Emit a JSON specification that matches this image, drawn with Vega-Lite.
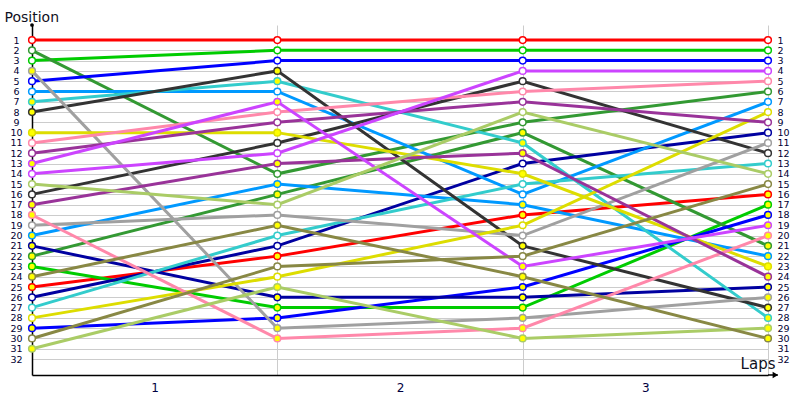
{
  "$schema": "https://vega.github.io/schema/vega-lite/v6.json",
  "width": 736,
  "height": 350,
  "autosize": {"type": "none"},
  "padding": {"left": 32, "top": 25, "right": 32, "bottom": 25},
  "background": "white",
  "config": {"view": {"stroke": null}, "font": "DejaVu Sans"},
  "data": {"values": [
    {"driver":"R1","team":"red","car":"first","lap":0,"pos":1},{"driver":"R1","team":"red","car":"first","lap":1,"pos":1},{"driver":"R1","team":"red","car":"first","lap":2,"pos":1},{"driver":"R1","team":"red","car":"first","lap":3,"pos":1},
    {"driver":"R2","team":"red","car":"second","lap":0,"pos":25},{"driver":"R2","team":"red","car":"second","lap":1,"pos":22},{"driver":"R2","team":"red","car":"second","lap":2,"pos":18},{"driver":"R2","team":"red","car":"second","lap":3,"pos":16},
    {"driver":"L1","team":"lime","car":"first","lap":0,"pos":3},{"driver":"L1","team":"lime","car":"first","lap":1,"pos":2},{"driver":"L1","team":"lime","car":"first","lap":2,"pos":2},{"driver":"L1","team":"lime","car":"first","lap":3,"pos":2},
    {"driver":"L2","team":"lime","car":"second","lap":0,"pos":23},{"driver":"L2","team":"lime","car":"second","lap":1,"pos":27},{"driver":"L2","team":"lime","car":"second","lap":2,"pos":27},{"driver":"L2","team":"lime","car":"second","lap":3,"pos":17},
    {"driver":"F1","team":"forest","car":"first","lap":0,"pos":2},{"driver":"F1","team":"forest","car":"first","lap":1,"pos":14},{"driver":"F1","team":"forest","car":"first","lap":2,"pos":9},{"driver":"F1","team":"forest","car":"first","lap":3,"pos":6},
    {"driver":"F2","team":"forest","car":"second","lap":0,"pos":22},{"driver":"F2","team":"forest","car":"second","lap":1,"pos":16},{"driver":"F2","team":"forest","car":"second","lap":2,"pos":10},{"driver":"F2","team":"forest","car":"second","lap":3,"pos":21},
    {"driver":"B1","team":"blue","car":"first","lap":0,"pos":5},{"driver":"B1","team":"blue","car":"first","lap":1,"pos":3},{"driver":"B1","team":"blue","car":"first","lap":2,"pos":3},{"driver":"B1","team":"blue","car":"first","lap":3,"pos":3},
    {"driver":"B2","team":"blue","car":"second","lap":0,"pos":29},{"driver":"B2","team":"blue","car":"second","lap":1,"pos":28},{"driver":"B2","team":"blue","car":"second","lap":2,"pos":25},{"driver":"B2","team":"blue","car":"second","lap":3,"pos":18},
    {"driver":"N1","team":"navy","car":"first","lap":0,"pos":26},{"driver":"N1","team":"navy","car":"first","lap":1,"pos":21},{"driver":"N1","team":"navy","car":"first","lap":2,"pos":13},{"driver":"N1","team":"navy","car":"first","lap":3,"pos":10},
    {"driver":"N2","team":"navy","car":"second","lap":0,"pos":21},{"driver":"N2","team":"navy","car":"second","lap":1,"pos":26},{"driver":"N2","team":"navy","car":"second","lap":2,"pos":26},{"driver":"N2","team":"navy","car":"second","lap":3,"pos":25},
    {"driver":"D1","team":"dodger","car":"first","lap":0,"pos":6},{"driver":"D1","team":"dodger","car":"first","lap":1,"pos":6},{"driver":"D1","team":"dodger","car":"first","lap":2,"pos":16},{"driver":"D1","team":"dodger","car":"first","lap":3,"pos":7},
    {"driver":"D2","team":"dodger","car":"second","lap":0,"pos":20},{"driver":"D2","team":"dodger","car":"second","lap":1,"pos":15},{"driver":"D2","team":"dodger","car":"second","lap":2,"pos":17},{"driver":"D2","team":"dodger","car":"second","lap":3,"pos":22},
    {"driver":"T1","team":"turquoise","car":"first","lap":0,"pos":27},{"driver":"T1","team":"turquoise","car":"first","lap":1,"pos":20},{"driver":"T1","team":"turquoise","car":"first","lap":2,"pos":15},{"driver":"T1","team":"turquoise","car":"first","lap":3,"pos":13},
    {"driver":"T2","team":"turquoise","car":"second","lap":0,"pos":7},{"driver":"T2","team":"turquoise","car":"second","lap":1,"pos":5},{"driver":"T2","team":"turquoise","car":"second","lap":2,"pos":11},{"driver":"T2","team":"turquoise","car":"second","lap":3,"pos":28},
    {"driver":"K1","team":"black","car":"first","lap":0,"pos":16},{"driver":"K1","team":"black","car":"first","lap":1,"pos":11},{"driver":"K1","team":"black","car":"first","lap":2,"pos":5},{"driver":"K1","team":"black","car":"first","lap":3,"pos":12},
    {"driver":"K2","team":"black","car":"second","lap":0,"pos":8},{"driver":"K2","team":"black","car":"second","lap":1,"pos":4},{"driver":"K2","team":"black","car":"second","lap":2,"pos":21},{"driver":"K2","team":"black","car":"second","lap":3,"pos":27},
    {"driver":"G1","team":"gray","car":"first","lap":0,"pos":19},{"driver":"G1","team":"gray","car":"first","lap":1,"pos":18},{"driver":"G1","team":"gray","car":"first","lap":2,"pos":20},{"driver":"G1","team":"gray","car":"first","lap":3,"pos":11},
    {"driver":"G2","team":"gray","car":"second","lap":0,"pos":4},{"driver":"G2","team":"gray","car":"second","lap":1,"pos":29},{"driver":"G2","team":"gray","car":"second","lap":2,"pos":28},{"driver":"G2","team":"gray","car":"second","lap":3,"pos":26},
    {"driver":"Y1","team":"yellow","car":"first","lap":0,"pos":28},{"driver":"Y1","team":"yellow","car":"first","lap":1,"pos":24},{"driver":"Y1","team":"yellow","car":"first","lap":2,"pos":19},{"driver":"Y1","team":"yellow","car":"first","lap":3,"pos":8},
    {"driver":"Y2","team":"yellow","car":"second","lap":0,"pos":10},{"driver":"Y2","team":"yellow","car":"second","lap":1,"pos":10},{"driver":"Y2","team":"yellow","car":"second","lap":2,"pos":14},{"driver":"Y2","team":"yellow","car":"second","lap":3,"pos":23},
    {"driver":"P1","team":"pink","car":"first","lap":0,"pos":11},{"driver":"P1","team":"pink","car":"first","lap":1,"pos":8},{"driver":"P1","team":"pink","car":"first","lap":2,"pos":6},{"driver":"P1","team":"pink","car":"first","lap":3,"pos":5},
    {"driver":"P2","team":"pink","car":"second","lap":0,"pos":18},{"driver":"P2","team":"pink","car":"second","lap":1,"pos":30},{"driver":"P2","team":"pink","car":"second","lap":2,"pos":29},{"driver":"P2","team":"pink","car":"second","lap":3,"pos":20},
    {"driver":"U1","team":"purple","car":"first","lap":0,"pos":12},{"driver":"U1","team":"purple","car":"first","lap":1,"pos":9},{"driver":"U1","team":"purple","car":"first","lap":2,"pos":7},{"driver":"U1","team":"purple","car":"first","lap":3,"pos":9},
    {"driver":"U2","team":"purple","car":"second","lap":0,"pos":17},{"driver":"U2","team":"purple","car":"second","lap":1,"pos":13},{"driver":"U2","team":"purple","car":"second","lap":2,"pos":12},{"driver":"U2","team":"purple","car":"second","lap":3,"pos":24},
    {"driver":"M1","team":"magenta","car":"first","lap":0,"pos":14},{"driver":"M1","team":"magenta","car":"first","lap":1,"pos":12},{"driver":"M1","team":"magenta","car":"first","lap":2,"pos":4},{"driver":"M1","team":"magenta","car":"first","lap":3,"pos":4},
    {"driver":"M2","team":"magenta","car":"second","lap":0,"pos":13},{"driver":"M2","team":"magenta","car":"second","lap":1,"pos":7},{"driver":"M2","team":"magenta","car":"second","lap":2,"pos":23},{"driver":"M2","team":"magenta","car":"second","lap":3,"pos":19},
    {"driver":"V1","team":"yellowgreen","car":"first","lap":0,"pos":15},{"driver":"V1","team":"yellowgreen","car":"first","lap":1,"pos":17},{"driver":"V1","team":"yellowgreen","car":"first","lap":2,"pos":8},{"driver":"V1","team":"yellowgreen","car":"first","lap":3,"pos":14},
    {"driver":"V2","team":"yellowgreen","car":"second","lap":0,"pos":31},{"driver":"V2","team":"yellowgreen","car":"second","lap":1,"pos":25},{"driver":"V2","team":"yellowgreen","car":"second","lap":2,"pos":30},{"driver":"V2","team":"yellowgreen","car":"second","lap":3,"pos":29},
    {"driver":"O1","team":"olive","car":"first","lap":0,"pos":30},{"driver":"O1","team":"olive","car":"first","lap":1,"pos":23},{"driver":"O1","team":"olive","car":"first","lap":2,"pos":22},{"driver":"O1","team":"olive","car":"first","lap":3,"pos":15},
    {"driver":"O2","team":"olive","car":"second","lap":0,"pos":24},{"driver":"O2","team":"olive","car":"second","lap":1,"pos":19},{"driver":"O2","team":"olive","car":"second","lap":2,"pos":24},{"driver":"O2","team":"olive","car":"second","lap":3,"pos":30}
  ]},
  "resolve": {"axis": {"y": "independent"}},
  "layer": [
    {
      "mark": {"type": "line", "strokeWidth": 3},
      "encoding": {
        "x": {"field": "lap", "type": "quantitative",
          "scale": {"domain": [0, 3], "nice": false, "zero": false},
          "axis": {"values": [0.5, 1, 1.5, 2, 2.5, 3],
            "labelExpr": "datum.value % 1 ? toString(ceil(datum.value)) : ''",
            "ticks": false, "tickSize": 0, "grid": true,
            "gridColor": {"condition": {"test": "datum.value % 1 == 0", "value": "#cccccc"}, "value": "rgba(0,0,0,0)"},
            "domainColor": "#000000", "domainWidth": 1.5,
            "labelFontSize": 12, "labelColor": "#000040", "labelPadding": 7,
            "title": "Laps", "titleFontSize": 15, "titleFontWeight": "normal", "titleColor": "#111122",
            "titleAlign": "right", "titleBaseline": "alphabetic", "titleAnchor": null,
            "titleX": 743, "titleY": -7}},
        "y": {"field": "pos", "type": "quantitative",
          "scale": {"domain": [-0.46, 33.55], "reverse": true, "nice": false, "zero": false},
          "axis": {"values": [1,2,3,4,5,6,7,8,9,10,11,12,13,14,15,16,17,18,19,20,21,22,23,24,25,26,27,28,29,30,31,32],
            "grid": true, "gridColor": "#cccccc", "gridWidth": 1,
            "ticks": false, "tickSize": 0, "domainColor": "#000000", "domainWidth": 1.5,
            "labelFontSize": 9.5, "labelColor": "#000033", "labelAlign": "center", "labelPadding": 16,
            "labelOverlap": false,
            "title": "Position", "titleAngle": 0, "titleFontSize": 14, "titleFontWeight": "normal", "titleColor": "#111122",
            "titleAlign": "left", "titleBaseline": "alphabetic", "titleAnchor": null,
            "titleX": -28, "titleY": -4}},
        "color": {"field": "team", "type": "nominal", "legend": null,
          "scale": {"domain": ["red","lime","forest","blue","navy","dodger","turquoise","black","gray","yellow","pink","purple","magenta","yellowgreen","olive"],
            "range": ["#ff0000","#00cc00","#339933","#0000ff","#0000a0","#0099ff","#33cccc","#333333","#a0a0a0","#dddd00","#ff88aa","#993399","#cc44ff","#aacc66","#888844"]}},
        "detail": {"field": "driver"}
      }
    },
    {
      "mark": {"type": "point", "shape": "circle", "filled": true, "size": 45, "strokeWidth": 1.5, "opacity": 1},
      "encoding": {
        "x": {"field": "lap", "type": "quantitative"},
        "y": {"field": "pos", "type": "quantitative",
          "axis": {"orient": "right", "values": [1,2,3,4,5,6,7,8,9,10,11,12,13,14,15,16,17,18,19,20,21,22,23,24,25,26,27,28,29,30,31,32],
            "grid": false, "domain": false, "ticks": false, "tickSize": 0,
            "labelFontSize": 9.5, "labelColor": "#000033", "labelAlign": "left", "labelPadding": 9,
            "labelOverlap": false, "title": null}},
        "stroke": {"field": "team", "type": "nominal", "legend": null,
          "scale": {"domain": ["red","lime","forest","blue","navy","dodger","turquoise","black","gray","yellow","pink","purple","magenta","yellowgreen","olive"],
            "range": ["#ff0000","#00cc00","#339933","#0000ff","#0000a0","#0099ff","#33cccc","#333333","#a0a0a0","#dddd00","#ff88aa","#993399","#cc44ff","#aacc66","#888844"]}},
        "fill": {"field": "car", "type": "nominal", "legend": null,
          "scale": {"domain": ["first", "second"], "range": ["#ffffff", "#ffff00"]}}
      }
    },
    {
      "data": {"values": [{}]},
      "mark": {"type": "rule", "color": "#000000", "strokeWidth": 1.5},
      "encoding": {
        "x": {"datum": 3},
        "x2": {"datum": 3.04},
        "y": {"datum": 33.55, "axis": null}
      }
    },
    {
      "data": {"values": [{}]},
      "mark": {"type": "point", "shape": "triangle-right", "filled": true, "color": "#000000", "size": 40, "opacity": 1},
      "encoding": {
        "x": {"datum": 3.03},
        "y": {"datum": 33.55, "axis": null}
      }
    },
    {
      "data": {"values": [{}]},
      "mark": {"type": "point", "shape": "circle", "filled": true, "color": "#000000", "size": 14, "opacity": 1},
      "encoding": {
        "x": {"datum": 0},
        "y": {"datum": -0.46, "axis": null}
      }
    }
  ]
}
